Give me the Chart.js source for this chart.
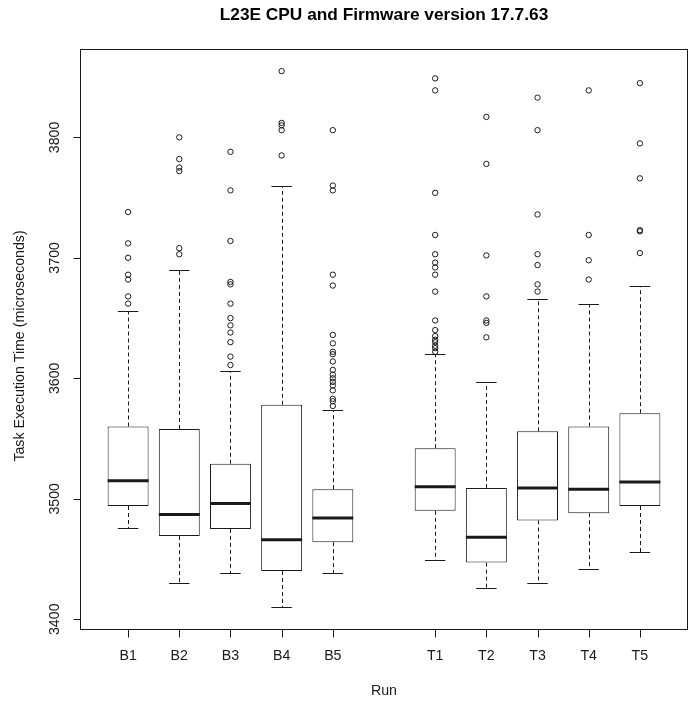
<!DOCTYPE html>
<html>
<head>
<meta charset="utf-8">
<script src="https://cdn.jsdelivr.net/npm/chart.js@4.4.0/dist/chart.umd.min.js"></script>
<style>
  html, body { margin: 0; padding: 0; background: #fff; overflow: hidden; }
  canvas { display: block; }
</style>
</head>
<body>
<canvas id="chart" width="689" height="702"></canvas>
<script>
// R-style boxplot, one box per run
const runs = ['B1', 'B2', 'B3', 'B4', 'B5', 'T1', 'T2', 'T3', 'T4', 'T5'];
const positions = [1, 2, 3, 4, 5, 7, 8, 9, 10, 11];
const whiskerLow = [3476, 3430, 3438, 3410, 3438, 3449, 3426, 3430, 3442, 3456];
const q1 = [3494, 3469, 3475, 3440, 3464, 3490, 3447, 3482, 3488, 3494];
const median = [3515, 3487, 3496, 3466, 3484, 3510, 3468, 3509, 3508, 3514];
const q3 = [3560, 3558, 3529, 3578, 3508, 3542, 3509, 3556, 3560, 3571];
const whiskerHigh = [3656, 3690, 3606, 3760, 3574, 3620, 3597, 3666, 3662, 3677];
const outliers = [
  [3738, 3712, 3700, 3686, 3682, 3668, 3662],
  [3800, 3782, 3775, 3772, 3708, 3703],
  [3788, 3756, 3714, 3680, 3678, 3662, 3650, 3644, 3638, 3630, 3618, 3611],
  [3855, 3812, 3810, 3806, 3785],
  [3806, 3760, 3756, 3686, 3677, 3636, 3629, 3622, 3620, 3614, 3607, 3603, 3600, 3597, 3594, 3590, 3583, 3581, 3577],
  [3849, 3839, 3754, 3719, 3703, 3696, 3692, 3686, 3672, 3648, 3640, 3635, 3632, 3630, 3627, 3625, 3622],
  [3817, 3778, 3702, 3668, 3648, 3646, 3634],
  [3833, 3806, 3736, 3703, 3694, 3678, 3672],
  [3839, 3719, 3698, 3682],
  [3845, 3795, 3766, 3723, 3722, 3704]
];
const yTicks = [3400, 3500, 3600, 3700, 3800];

const FONT = "'Liberation Sans', Arial, sans-serif";
const INK = '#1a1a1a';

const boxData = positions.map((p, i) => ({ x: p, y: [q1[i], q3[i]] }));
const outlierData = [];
outliers.forEach((list, i) => {
  list.forEach(v => outlierData.push({ x: positions[i], y: v }));
});

// whiskers, staples, medians and the R style axes
const boxplotExtras = {
  id: 'boxplotExtras',
  afterDatasetsDraw(chart) {
    const ctx = chart.ctx;
    const xs = chart.scales.x, ys = chart.scales.y;
    const area = chart.chartArea;
    ctx.save();
    ctx.strokeStyle = INK;
    ctx.lineWidth = 1;

    positions.forEach((p, i) => {
      const cx = Math.round(xs.getPixelForValue(p)) + 0.5;
      const sL = xs.getPixelForValue(p - 0.2), sR = xs.getPixelForValue(p + 0.2);
      const hi = Math.round(ys.getPixelForValue(whiskerHigh[i])) + 0.5;
      const lo = Math.round(ys.getPixelForValue(whiskerLow[i])) + 0.5;
      const top = ys.getPixelForValue(q3[i]);
      const bot = ys.getPixelForValue(q1[i]);

      ctx.setLineDash([4, 3]);
      ctx.beginPath();
      ctx.moveTo(cx, top); ctx.lineTo(cx, hi);
      ctx.moveTo(cx, bot); ctx.lineTo(cx, lo);
      ctx.stroke();
      ctx.setLineDash([]);

      ctx.beginPath();
      ctx.moveTo(sL, hi); ctx.lineTo(sR, hi);
      ctx.moveTo(sL, lo); ctx.lineTo(sR, lo);
      ctx.stroke();

      const my = ys.getPixelForValue(median[i]);
      ctx.lineWidth = 3;
      ctx.beginPath();
      ctx.moveTo(xs.getPixelForValue(p - 0.4), my);
      ctx.lineTo(xs.getPixelForValue(p + 0.4), my);
      ctx.stroke();
      ctx.lineWidth = 1;
    });

    // frame
    ctx.strokeRect(Math.round(area.left) + 0.5, Math.round(area.top) + 0.5,
      Math.round(area.right - area.left) - 1, Math.round(area.bottom - area.top));

    ctx.fillStyle = INK;
    ctx.font = '14.2px ' + FONT;

    // y axis
    const yl = Math.round(area.left) + 0.5;
    ctx.beginPath();
    yTicks.forEach(v => {
      const py = Math.round(ys.getPixelForValue(v)) + 0.5;
      ctx.moveTo(yl - 7, py); ctx.lineTo(yl, py);
    });
    ctx.stroke();
    yTicks.forEach(v => {
      const py = ys.getPixelForValue(v);
      ctx.save();
      ctx.translate(area.left - 25, py);
      ctx.rotate(-Math.PI / 2);
      ctx.textAlign = 'center';
      ctx.textBaseline = 'middle';
      ctx.fillText(String(v), 0, 0);
      ctx.restore();
    });

    // x axis
    const xb = Math.round(area.bottom) + 0.5;
    ctx.beginPath();
    positions.forEach(p => {
      const px = Math.round(xs.getPixelForValue(p)) + 0.5;
      ctx.moveTo(px, xb); ctx.lineTo(px, xb + 8);
    });
    ctx.stroke();
    ctx.textAlign = 'center';
    ctx.textBaseline = 'middle';
    positions.forEach((p, i) => {
      ctx.fillText(runs[i], xs.getPixelForValue(p), area.bottom + 27);
    });

    // axis titles
    const midX = (area.left + area.right) / 2;
    const midY = (area.top + area.bottom) / 2;
    ctx.fillText('Run', midX, area.bottom + 62);
    ctx.save();
    ctx.translate(20, midY + 7);
    ctx.rotate(-Math.PI / 2);
    ctx.fillText('Task Execution Time (microseconds)', 0, 0);
    ctx.restore();

    ctx.restore();
  }
};

const ctx = document.getElementById('chart').getContext('2d');
const chart = new Chart(ctx, {
  type: 'bar',
  data: {
    datasets: [{
      type: 'bar',
      label: 'box',
      data: boxData,
      backgroundColor: '#ffffff',
      borderColor: INK,
      borderWidth: 1,
      borderSkipped: false,
      barPercentage: 0.8,
      categoryPercentage: 1.0,
      order: 2
    }, {
      type: 'scatter',
      label: 'outliers',
      data: outlierData,
      pointStyle: 'circle',
      radius: 2.7,
      hoverRadius: 2.7,
      backgroundColor: 'rgba(0,0,0,0)',
      borderColor: INK,
      borderWidth: 1,
      order: 1
    }]
  },
  options: {
    animation: false,
    responsive: false,
    devicePixelRatio: 1,
    layout: {
      autoPadding: false,
      padding: { left: 80, right: 1, top: 0, bottom: 73 }
    },
    plugins: {
      legend: { display: false },
      tooltip: { enabled: false },
      title: {
        display: true,
        text: 'L23E CPU and Firmware version 17.7.63',
        color: '#000',
        font: { family: FONT, size: 17.3, weight: 'bold' },
        padding: { top: 5, bottom: 23.2 }
      }
    },
    scales: {
      x: {
        type: 'linear',
        display: false,
        offset: false,
        min: 0.06,
        max: 11.94,
        afterBuildTicks: s => { s.ticks = positions.map(v => ({ value: v })); }
      },
      y: {
        type: 'linear',
        display: false,
        min: 3391.9,
        max: 3873.4
      }
    }
  },
  plugins: [boxplotExtras]
});
</script>
</body>
</html>
